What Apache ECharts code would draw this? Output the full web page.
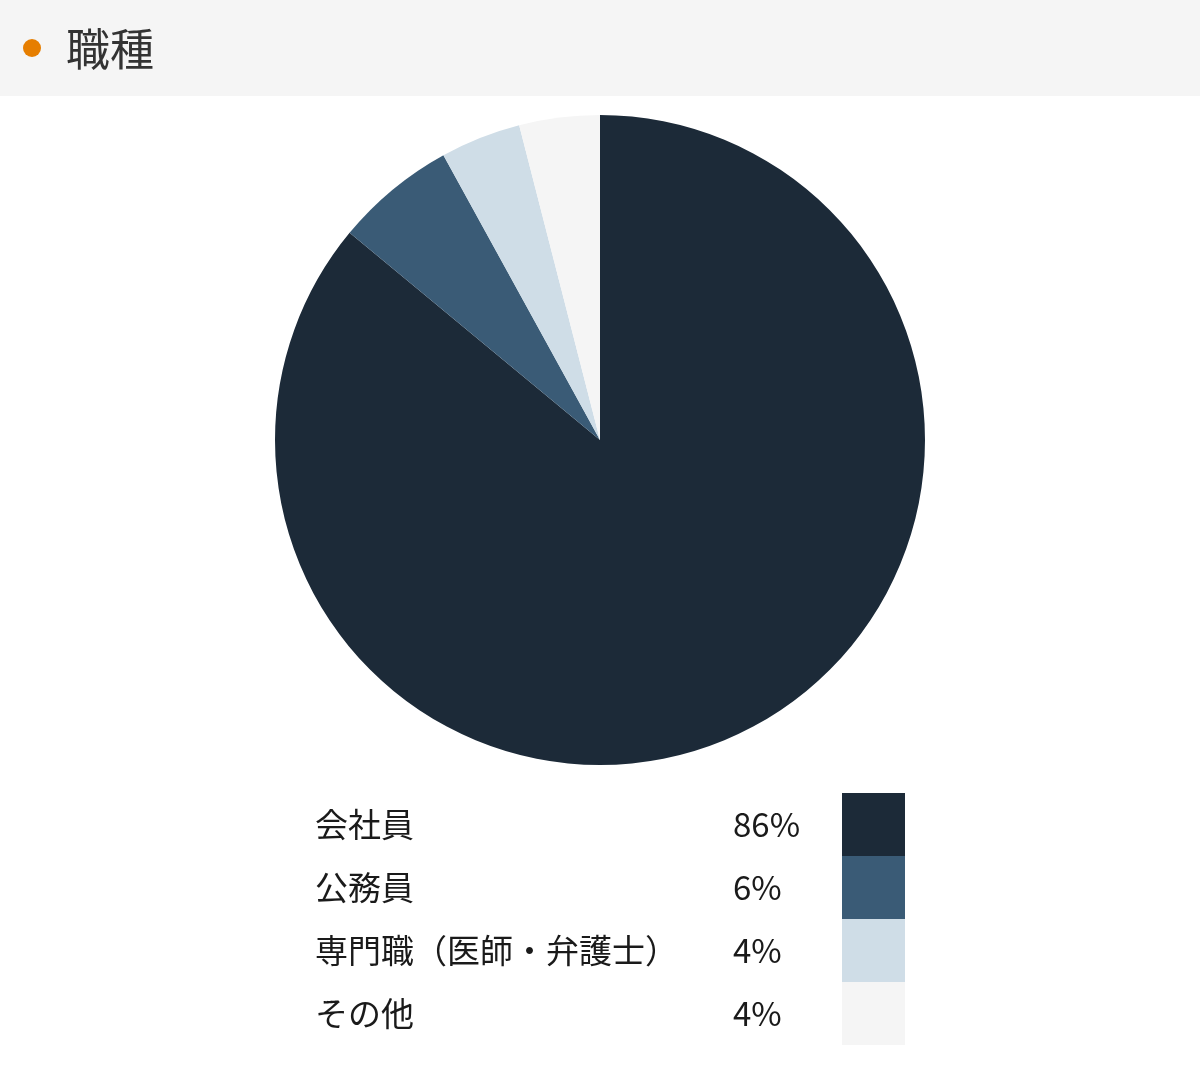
<!DOCTYPE html>
<html>
<head>
<meta charset="utf-8">
<script src="https://cdn.jsdelivr.net/npm/echarts@6/dist/echarts.min.js"></script>
<style>
html,body{margin:0;padding:0;background:#fff;}
#chart{width:1200px;height:1090px;}
</style>
</head>
<body>
<div id="chart"></div>
<script>
const titleText = '職種';
const categories = ['会社員', '公務員', '専門職（医師・弁護士）', 'その他'];
const values = [86, 6, 4, 4];
const colors = ['#1c2a38', '#3a5b76', '#cfdde7', '#f5f5f5'];

const FONT = '"Noto Sans CJK JP", "Noto Sans", sans-serif';
const chart = echarts.init(document.getElementById('chart'), null, {renderer: 'canvas'});

const seriesData = categories.map((c, i) => ({
  name: c,
  value: values[i],
  itemStyle: {color: colors[i]}
}));

chart.setOption({
  animation: false,
  graphic: [
    {type: 'rect', left: 0, top: 0, shape: {width: 1200, height: 96}, style: {fill: '#f5f5f5'}, z: -1},
    {type: 'circle', shape: {cx: 32, cy: 48, r: 9}, style: {fill: '#e67e00'}},
    {type: 'text', left: 66, top: 27, style: {text: titleText, fill: '#333', font: '44px ' + FONT}}
  ],
  legend: {
    orient: 'vertical',
    left: 315,
    top: 793,
    padding: 0,
    itemWidth: 63,
    itemHeight: 63,
    itemGap: 0,
    align: 'right',
    selectedMode: false,
    icon: 'rect',
    itemStyle: {borderWidth: 0},
    data: categories,
    formatter: function (name) {
      const i = categories.indexOf(name);
      return '{n|' + name + '}{p|' + values[i] + '%}';
    },
    textStyle: {
      rich: {
        n: {width: 418, align: 'left', fontSize: 33, color: '#1a1a1a', fontFamily: FONT},
        p: {width: 104, align: 'left', fontSize: 33, color: '#1a1a1a', fontFamily: FONT}
      }
    }
  },
  series: [{
    type: 'pie',
    center: [600, 440],
    radius: [0, 325],
    startAngle: 90,
    clockwise: true,
    silent: true,
    label: {show: false},
    labelLine: {show: false},
    itemStyle: {borderWidth: 0},
    data: seriesData
  }]
});
</script>
</body>
</html>
